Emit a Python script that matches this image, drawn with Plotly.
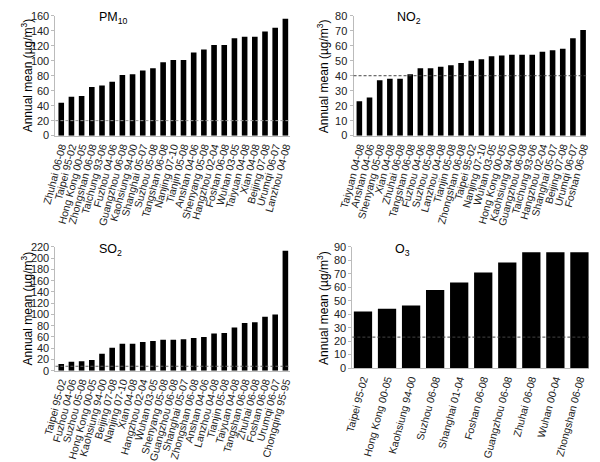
import plotly.graph_objects as go
from plotly.subplots import make_subplots

# PM10
pm10_cities = ["Zhuhai 06-08", "Taipei 95-02", "Hong Kong 00-05", "Zhongshan 06-08", "Taichung 93-06",
               "Fuzhou 04-06", "Guangzhou 06-08", "Kaohsiung 94-00", "Shanghai 05-07", "Suzhou 05-08",
               "Tangshan 06-08", "Nanjing 07-10", "Tianjin 05-08", "Anshan 04-06", "Shenyang 05-08",
               "Hangzhou 02-04", "Foshan 06-08", "Wuhan 03-05", "Taiyuan 04-08", "Xian 04-08",
               "Beijing 07-08", "Urumqi 06-07", "Lanzhou 04-08"]
pm10_values = [44, 52, 53, 65, 67, 72, 81, 82, 87, 90, 98, 101, 101, 111, 115, 121, 121, 130, 132, 132, 139, 144, 156]
pm10_guide = 20

# NO2
no2_cities = ["Taiyuan 04-08", "Anshan 04-06", "Shenyang 05-08", "Xian 04-08", "Zhuhai 06-08",
              "Tangshan 06-08", "Fuzhou 04-06", "Suzhou 05-08", "Lanzhou 04-08", "Tianjin 05-08",
              "Zhongshan 06-08", "Taipei 95-02", "Nanjing 07-10", "Wuhan 03-05", "Hong Kong 00-05",
              "Kaohsiung 94-00", "Guangzhou 06-08", "Taichung 93-06", "Hangzhou 02-04", "Shanghai 05-07",
              "Beijing 07-08", "Urumqi 06-07", "Foshan 06-08"]
no2_values = [23, 25.5, 37, 38, 38, 41, 45, 45, 46, 47, 48.5, 50, 51, 53, 53.5, 54, 54, 54, 56, 57, 58, 65, 70.5]
no2_guide = 40

# SO2
so2_cities = ["Taipei 95-02", "Fuzhou 04-06", "Suzhou 05-08", "Hong Kong 00-05", "Kaohsiung 94-00",
              "Beijing 07-08", "Nanjing 07-10", "Xian 04-08", "Hangzhou 02-04", "Wuhan 03-05",
              "Shenyang 05-08", "Guangzhou 06-08", "Shanghai 05-07", "Zhongshan 06-08", "Anshan 04-06",
              "Lanzhou 04-08", "Tianjin 05-08", "Taiyuan 04-08", "Tangshan 06-08", "Zhuhai 06-08",
              "Foshan 06-08", "Urumqi 06-07", "Chongqing 95-95"]
so2_values = [12, 16, 17, 19, 30, 41, 48, 48, 51, 53, 55, 55, 56, 58, 60, 66, 67, 77, 85, 86, 96, 100, 213]
so2_guide = 8

# O3
o3_cities = ["Taipei 95-02", "Hong Kong 00-05", "Kaohsiung 94-00", "Suzhou 06-08", "Shanghai 01-04",
             "Foshan 06-08", "Guangzhou 06-08", "Zhuhai 06-08", "Wuhan 00-04", "Zhongshan 06-08"]
o3_values = [42, 44, 46.5, 58, 63.5, 71, 78.5, 86, 86, 86]
o3_guide = 23

panels = [
    ("PM<sub>10</sub>", pm10_cities, pm10_values, pm10_guide, 160, 20, 1, 1),
    ("NO<sub>2</sub>", no2_cities, no2_values, no2_guide, 80, 10, 1, 2),
    ("SO<sub>2</sub>", so2_cities, so2_values, so2_guide, 220, 20, 2, 1),
    ("O<sub>3</sub>", o3_cities, o3_values, o3_guide, 90, 10, 2, 2),
]

# domains in paper coords (x0, x1, y0, y1)
domains = [
    (0.068, 0.472, 0.710, 0.978),
    (0.582, 0.983, 0.710, 0.978),
    (0.068, 0.472, 0.184, 0.461),
    (0.580, 0.988, 0.190, 0.461),
]
xranges = [(-0.57, 22.43), (-0.57, 22.3), (-0.57, 22.43), (-0.44, 9.4)]
bar_w = [0.55, 0.55, 0.55, 0.76]
title_pos = [(85, 3), (393, 3), (85, 243), (391, 243)]   # left / top corner in px
ytitle_x = [11, 317, 11, 317]
guide_col = ["#999999", "#444444", "#666666", "#444444"]

narrow = "Liberation Sans Narrow, Arial Narrow, sans-serif"
regular = "Liberation Sans, Arial, sans-serif"

fig = make_subplots(rows=2, cols=2)

for i, (name, cats, vals, guide, ymax, dtick, r, c) in enumerate(panels):
    fig.add_trace(go.Bar(x=cats, y=vals, width=bar_w[i],
                         marker=dict(color="black", line=dict(width=0)),
                         showlegend=False), row=r, col=c)
    fig.add_hline(y=guide, line=dict(color=guide_col[i], width=1, dash="3px,2px"), row=r, col=c)
    ax = "xaxis" if i == 0 else f"xaxis{i+1}"
    ay = "yaxis" if i == 0 else f"yaxis{i+1}"
    d = domains[i]
    fig.update_layout({
        ax: dict(domain=[d[0], d[1]], tickangle=-75, dtick=1,
                 tickfont=dict(size=10.5, color="#222", family=narrow),
                 showline=True, linecolor="#bbbbbb", ticks="", showgrid=False,
                 range=list(xranges[i])),
        ay: dict(domain=[d[2], d[3]], range=[0, ymax], dtick=dtick, showgrid=False, zeroline=False,
                 showline=True, linecolor="#bbbbbb", ticks="outside", ticklen=3, tickcolor="#bbbbbb",
                 tickfont=dict(size=11, color="#222", family=regular)),
    })
    tx, ty = title_pos[i]
    fig.add_annotation(x=tx / 600, y=1 - ty / 462, xref="paper", yref="paper", text=name,
                       showarrow=False, font=dict(size=12.5, color="black", family=narrow),
                       xanchor="left", yanchor="top", borderpad=0)
    fig.add_annotation(x=ytitle_x[i] / 600, y=(d[2] + d[3]) / 2, xref="paper", yref="paper",
                       text="Annual mean (µg/m<sup>3</sup>)", textangle=-90, showarrow=False,
                       xanchor="center", yanchor="middle",
                       font=dict(size=12, color="black", family=narrow))

fig.update_layout(
    width=600, height=462,
    margin=dict(l=0, r=0, t=0, b=0),
    plot_bgcolor="white", paper_bgcolor="white",
    font=dict(family=regular),
)

fig.write_html("out.html", config={"displayModeBar": False},
               post_script="document.body.style.margin='0';")
